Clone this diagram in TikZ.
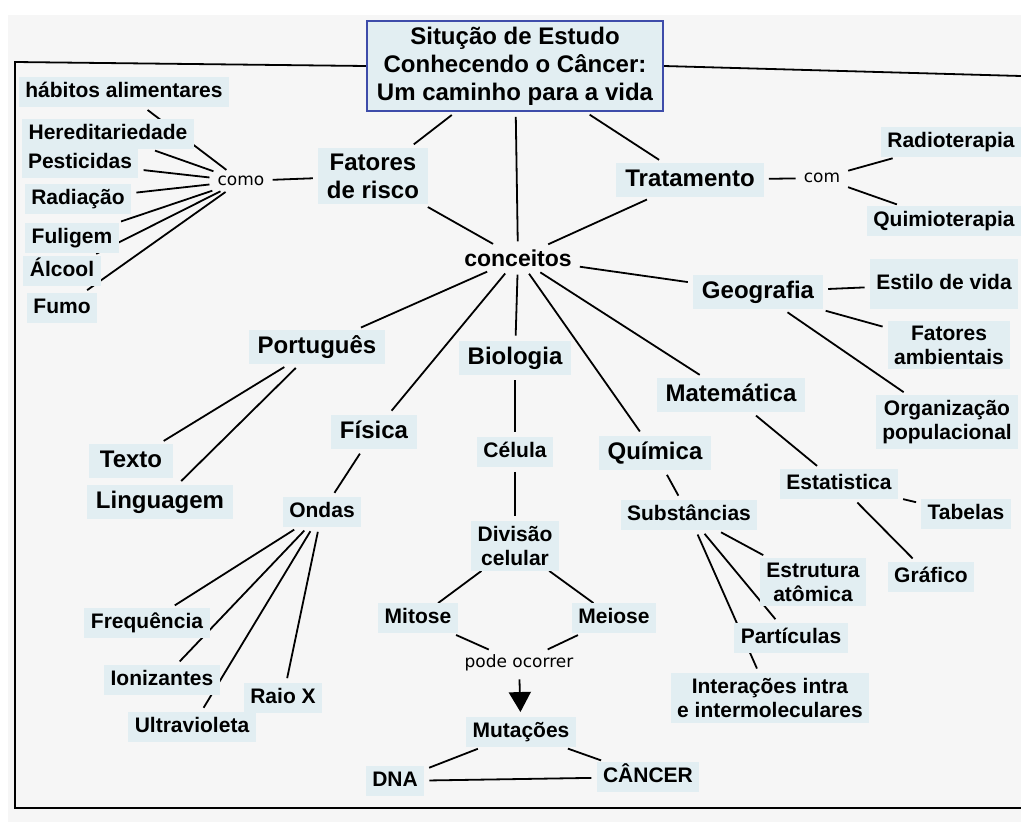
\documentclass[tikz,border=0pt]{standalone}
\usepackage{fontspec}
\newfontfamily\mapfont{Liberation Sans}
\newfontfamily\linkfont{DejaVu Sans}
\usetikzlibrary{arrows.meta}
\pgfdeclarelayer{bg}
\pgfsetlayers{bg,main}
\definecolor{boxfill}{RGB}{226,238,242}
\definecolor{paper}{RGB}{246,246,246}
\definecolor{titleblue}{RGB}{62,76,170}
\tikzset{
    concept/.style={fill=boxfill, align=center}, % caixa azul-clara dos conceitos
    big/.style={concept, inner xsep=9pt, inner ysep=6pt, font=\mapfont\bfseries\fontsize{24}{28}\selectfont, text height=17.5pt, text depth=5pt},
    small/.style={concept, inner xsep=6.5pt, inner ysep=5pt, font=\mapfont\bfseries\fontsize{21}{24}\selectfont, text height=15pt, text depth=4.5pt},
    multi/.style={text height=, text depth=}, % caixas com mais de uma linha
    link/.style={font=\linkfont\fontsize{17}{20}\selectfont, inner sep=3pt}, % frases de ligacao
    conn/.style={line width=1.8pt, shorten >=5pt, shorten <=5pt},
    frame/.style={line width=1.8pt}
}

\begin{document}
\begin{tikzpicture}[x=1pt, y=-1pt]
    \useasboundingbox (0,0) rectangle (1021,822);

    % titulo
    \node[concept, draw=titleblue, line width=1.5pt, inner xsep=10pt, inner ysep=6pt, font=\mapfont\bfseries\fontsize{24}{28}\selectfont] (title) at (515,66) {Situção de Estudo\\Conhecendo o Câncer:\\Um caminho para a vida};

    % fatores de risco
    \node[small] (habitos) at (124,92) {hábitos alimentares};
    \node[small] (hered) at (108,134) {Hereditariedade};
    \node[small] (pest) at (80,163) {Pesticidas};
    \node[small] (rad) at (78,199) {Radiação};
    \node[small] (fulig) at (72,238) {Fuligem};
    \node[small] (alcool) at (62,271) {Álcool};
    \node[small] (fumo) at (62,308) {Fumo};
    \node[link] (como) at (241,181) {como};
    \node[big, multi] (fatores) at (373,176) {Fatores\\de risco};

    % tratamento
    \node[big] (trat) at (690,180) {Tratamento};
    \node[link] (com) at (822,178) {com};
    \node[small, minimum width=141pt] (radio) at (951,142) {Radioterapia};
    \node[small] (quimio) at (944,221) {Quimioterapia};

    \node[concept, inner sep=3pt, fill=none, font=\mapfont\bfseries\fontsize{23}{26}\selectfont] (conc) at (518,258) {conceitos};

    % geografia
    \node[big] (geo) at (758,292) {Geografia};
    \node[small, minimum height=50pt] (estilo) at (944,284) {Estilo de vida};
    \node[small, multi] (ambient) at (949,345) {Fatores\\ambientais};
    \node[small, multi] (org) at (947,422) {Organização\\populacional};

    % disciplinas
    \node[big] (port) at (317,347) {Português};
    \node[big] (bio) at (515,358) {Biologia};
    \node[big] (mat) at (731,395) {Matemática};
    \node[big] (fis) at (374,432) {Física};
    \node[big] (quim) at (655,453) {Química};
    \node[big, inner xsep=11pt] (texto) at (131,461) {Texto};
    \node[big] (ling) at (160,502) {Linguagem};

    % fisica
    \node[small] (ondas) at (322,512) {Ondas};
    \node[small] (freq) at (147,623) {Frequência};
    \node[small] (ioniz) at (162,680) {Ionizantes};
    \node[small] (raiox) at (283,698) {Raio X};
    \node[small] (ultra) at (192,727) {Ultravioleta};

    % biologia
    \node[small] (cel) at (515,452) {Célula};
    \node[small, multi] (divisao) at (515,546) {Divisão\\celular};
    \node[small] (mitose) at (418,618) {Mitose};
    \node[small] (meiose) at (614,618) {Meiose};
    \node[link] (pode) at (519,663) {pode ocorrer};
    \node[small] (mut) at (521,732) {Mutações};
    \node[small] (dna) at (395,781) {DNA};
    \node[small] (cancer) at (648,777) {CÂNCER};

    % quimica
    \node[small] (subst) at (689,515) {Substâncias};
    \node[small, multi] (estrut) at (813,582) {Estrutura\\atômica};
    \node[small] (partic) at (791,638) {Partículas};
    \node[small, multi] (inter) at (770,698) {Interações intra\\e intermoleculares};

    % matematica
    \node[small] (estat) at (839,484) {Estatistica};
    \node[small] (tabelas) at (966,514) {Tabelas};
    \node[small] (graf) at (931,577) {Gráfico};

    \begin{pgfonlayer}{bg}
        \fill[white] (0,0) rectangle (1021,822);
        \fill[paper] (8,15) rectangle (1021,822);

        % moldura
        \coordinate (tl) at (15,62);
        \coordinate (bl) at (15,808);
        \coordinate (br) at (1021,808);
        \coordinate (tr) at (1021,76);
        \draw[frame] (title.west) -- (tl) -- (bl) -- (br);
        \draw[frame] (title.east) -- (tr);

        \foreach \n in {fatores,conc,trat} \draw[conn] (title) -- (\n);
        \foreach \n in {fatores,trat,geo,port,fis,bio,quim,mat} \draw[conn] (conc) -- (\n);
        \foreach \n in {habitos,hered,pest,rad,fulig,alcool,fumo} \draw[conn] (\n) -- (como);
        \draw[conn] (como) -- (fatores);
        \draw[conn] (trat) -- (com);
        \foreach \n in {radio,quimio} \draw[conn] (com) -- (\n);
        \foreach \n in {estilo,ambient,org} \draw[conn] (geo) -- (\n);
        \foreach \n in {texto,ling} \draw[conn] (port) -- (\n);
        \draw[conn] (fis) -- (ondas);
        \foreach \n in {freq,ioniz,ultra,raiox} \draw[conn] (ondas) -- (\n);
        \draw[conn] (bio) -- (cel);
        \draw[conn] (cel) -- (divisao);
        \foreach \n in {mitose,meiose} \draw[conn] (divisao) -- (\n) -- (pode);
        \draw[conn, -{Triangle[width=22pt,length=20pt]}] (pode) -- (mut);
        \foreach \n in {dna,cancer} \draw[conn] (mut) -- (\n);
        \draw[conn] (dna) -- (cancer);
        \draw[conn] (quim) -- (subst);
        \foreach \n in {estrut,partic,inter} \draw[conn] (subst) -- (\n);
        \draw[conn] (mat) -- (estat);
        \foreach \n in {tabelas,graf} \draw[conn] (estat) -- (\n);
    \end{pgfonlayer}
\end{tikzpicture}
\end{document}
